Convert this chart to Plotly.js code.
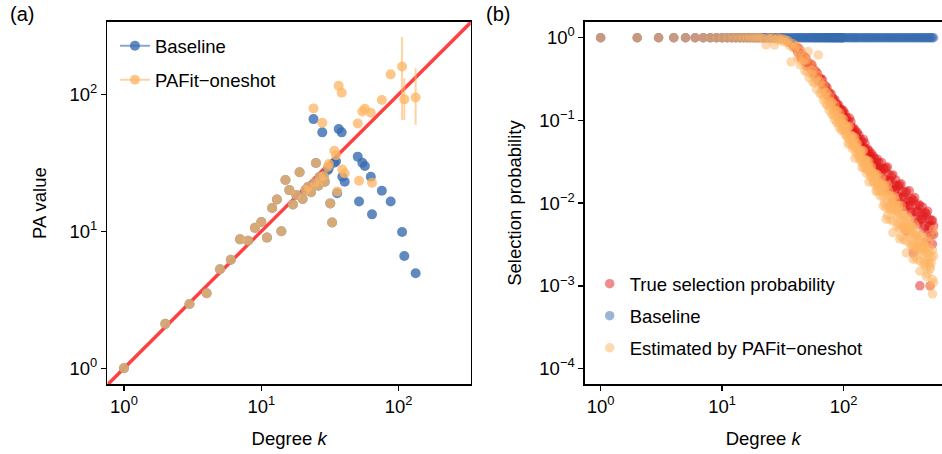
<!DOCTYPE html>
<html>
<head>
<meta charset="utf-8">
<script src="https://cdn.plot.ly/plotly-3.0.1.min.js"></script>
<style>html,body{margin:0;padding:0;background:#fff}#chart{width:942px;height:454px}</style>
</head>
<body>
<div id="chart"></div>
<script>
// ---------- Panel (a): PA value vs degree ----------
const degreeA = [1,2,3,4,5,6,7,8,9,10,11,12,13,14,15,16,17,18,19,20,21,22,23,
  24,24.6,25,26,26.7,27.8,28.5,29,30.5,31,31.8,32.8,34,35,35.7,36.6,38.5,38.9,40.5,
  50.4,51.5,54.4,56.8,62.7,64,75.5,87.5,106,110,133];
const baselinePA = [1,2.11,2.95,3.53,5.28,6.2,8.74,8.55,10.6,11.7,9.0,14.8,17.1,10.0,23.7,20.0,15.7,18.4,27.0,17.2,20.0,21.2,19.3,
  66,22.6,31.5,21.5,25,52.8,25.3,23,28,29,16,11.6,31.7,32.5,19,55.8,52.8,25,23,
  35.1,16.5,31.7,30,25,13.3,19.8,16.5,9.9,6.6,4.94];
const pafitPA = [1,2.11,2.95,3.53,5.28,6.2,8.74,8.55,10.6,11.7,9.0,14.8,17.1,10.0,23.7,20.0,15.7,18.4,27.0,17.2,20.0,21.2,19.3,
  79,22.6,31.5,21.5,25,62,25.3,23,29.5,31,16,11.6,38.8,36,19.5,115.6,102.8,28.3,26.5,
  61.4,23.4,75,78.5,73.5,22.6,91,140,160,92,95];
const pafitErrPlus  = [0,0,0,0,0,0,0,0,0,0,0,0,0,0,0,0,0,0,0,0,0,0,0,
  0,0,0,0,0,0,0,0,0,0,0,0,0,0,0,0,0,0,0,0,0,0,0,0,0,0,0,102,39,60];
const pafitErrMinus = [0,0,0,0,0,0,0,0,0,0,0,0,0,0,0,0,0,0,0,0,0,0,0,
  0,0,0,0,0,0,0,0,0,0,0,0,0,0,0,0,0,0,0,0,0,0,0,0,0,0,0,95,27,35];
const identityLine = [0.5, 1000];

// ---------- Panel (b): selection probability vs degree ----------
const degreeB = [
  1,2,3,4,5,6,7,8,9,10,
  11,12,13,14,15,16,17,18,19,20,
  21,22,23,24,25,26,27,28,29,30,
  31,32,33,34,35,36,37,38,39,40,
  41,42,43,44,45,46,47,48,49,50,
  51,52,53,54,55,56,57,58,59,60,
  61,62,63,64,65,66,67,68,69,70,
  71,72,73,74,75,76,77,78,79,80,
  81,82,83,84,85,86,87,88,89,90,
  91,92,93,94,95,96,97,98,99,
  100,103,106,109,112,115,118,121,124,127,
  130,134,138,142,146,150,154,158,162,166,
  170,175,180,185,190,195,200,206,212,218,
  224,230,236,242,248,255,262,269,276,283,
  290,298,306,314,322,330,339,348,357,366,
  375,385,395,405,415,425,436,447,458,469,
  480,492,504,516,528,540,552];
const trueProb = [
  1,1,1,1,1,1,1,1,1,1,
  1,1,1,1,1,1,1,1,1,1,
  1,1,1,1,1,1,1,1,1,1,
  0.99,0.98,0.97,0.95,0.93,0.89,0.86,0.83,0.79,0.76,
  0.77,0.67,0.74,0.58,0.64,0.57,0.60,0.51,0.57,0.45,
  0.50,0.46,0.48,0.42,0.47,0.37,0.41,0.37,0.39,0.33,
  0.37,0.30,0.33,0.30,0.32,0.28,0.31,0.24,0.27,0.24,
  0.26,0.22,0.25,0.20,0.22,0.20,0.21,0.185,0.21,0.167,
  0.187,0.17,0.18,0.158,0.178,0.142,0.16,0.146,0.155,0.136,
  0.154,0.123,0.139,0.127,0.136,0.119,0.134,0.108,0.122,
  0.131,0.098,0.108,0.083,0.107,0.084,0.071,0.081,0.060,0.070,
  0.072,0.054,0.059,0.046,0.059,0.046,0.039,0.045,0.033,0.039,
  0.040,0.030,0.035,0.026,0.034,0.027,0.023,0.031,0.0196,0.0258,
  0.0144,0.0273,0.0185,0.0142,0.0213,0.0105,0.0169,0.0191,0.0119,0.0161,
  0.009,0.0171,0.0117,0.009,0.0134,0.0046,0.0108,0.0141,0.0077,0.0113,
  0.0025,0.0117,0.0078,0.0056,0.0097,0.001,0.0076,0.009,0.0049,0.0077,
  0.0034,0.008,0.0053,0.001,0.0062,0.0032,0.0053];
const baselineProb = [
  1,1,1,1,1,1,1,1,1,1,
  1,1,1,1,1,1,1,1,1,1,
  1,1,1,1,1,1,1,1,1,1,
  1,1,1,1,1,1,1,1,1,1,
  1,1,1,1,1,1,1,1,1,1,
  1,1,1,1,1,1,1,1,1,1,
  1,1,1,1,1,1,1,1,1,1,
  1,1,1,1,1,1,1,1,1,1,
  1,1,1,1,1,1,1,1,1,1,
  1,1,1,1,1,1,1,1,1,
  1,1,1,1,1,1,1,1,1,1,
  1,1,1,1,1,1,1,1,1,1,
  1,1,1,1,1,1,1,1,1,1,
  1,1,1,1,1,1,1,1,1,1,
  1,1,1,1,1,1,1,1,1,1,
  1,1,1,1,1,1,1,1,1,1,
  1,1,1,1,1,1,1];
const estimatedProb = [
  1,1,1,1,1,1,1,1,1,1,
  1,1,1,1,1,1,1,1,1,1,
  1,0.98,0.82,1,0.97,1,0.82,0.95,1,0.93,
  0.97,0.9,0.95,0.88,0.92,0.8,0.51,0.85,0.75,0.78,
  0.80,0.565,0.63,0.47,0.69,0.505,0.56,0.40,0.54,0.39,
  0.68,0.33,0.49,0.36,0.41,0.29,0.40,0.284,0.318,0.238,
  0.355,0.62,0.297,0.213,0.293,0.21,0.238,0.177,0.262,0.193,
  0.218,0.156,0.218,0.153,0.175,0.133,0.195,0.145,0.166,0.118,
  0.166,0.119,0.134,0.102,0.154,0.113,0.13,0.094,0.131,0.094,
  0.108,0.082,0.124,0.092,0.105,0.076,0.107,0.078,0.089,
  0.103,0.068,0.078,0.052,0.085,0.058,0.0455,0.061,0.035,0.048,
  0.053,0.035,0.040,0.027,0.043,0.030,0.023,0.0316,0.018,0.0244,
  0.0273,0.018,0.0212,0.014,0.0222,0.0157,0.0122,0.0198,0.0093,0.0143,
  0.0064,0.0164,0.0093,0.0063,0.0122,0.0044,0.0087,0.0109,0.0052,0.008,
  0.0037,0.0093,0.0053,0.0036,0.0068,0.0025,0.0049,0.0064,0.003,0.0046,
  0.0021,0.0055,0.0031,0.0021,0.004,0.0015,0.0029,0.0039,0.0018,0.0029,
  0.0013,0.0034,0.0019,0.001,0.0039,0.0008,0.0023];

// further samples of nodes at the high-degree end (k >= 100)
const degreeBHigh = [
  100,103,106,109,112,115,118,121,124,127,
  130,134,138,142,146,150,154,158,162,166,
  170,175,180,185,190,195,200,206,212,218,
  224,230,236,242,248,255,262,269,276,283,
  290,298,306,314,322,330,339,348,357,366,
  375,385,395,405,415,425,436,447,458,469,
  480,492,504,516,528,540,552];
const trueProbHigh = [
  0.111,0.120,0.090,0.099,0.085,0.097,0.079,0.068,0.077,0.064,
  0.061,0.066,0.050,0.055,0.047,0.053,0.043,0.038,0.043,0.036,
  0.034,0.037,0.029,0.0315,0.0266,0.031,0.0255,0.024,0.0265,0.0194,
  0.0267,0.0156,0.0222,0.0186,0.0145,0.0219,0.0146,0.0147,0.0161,0.0121,
  0.0166,0.0098,0.014,0.0118,0.0091,0.0139,0.0093,0.0094,0.0104,0.0078,
  0.0109,0.0065,0.0094,0.0079,0.0061,0.0093,0.0063,0.0064,0.007,0.0053,
  0.0074,0.0044,0.0064,0.0053,0.0041,0.0062,0.0042];
const estimatedProbHigh = [
  0.081,0.088,0.065,0.084,0.053,0.064,0.065,0.048,0.062,0.040,
  0.042,0.045,0.033,0.043,0.027,0.033,0.033,0.025,0.032,0.021,
  0.0217,0.0232,0.0178,0.0223,0.014,0.0173,0.0176,0.0142,0.0166,0.010,
  0.0129,0.0071,0.014,0.0087,0.0113,0.0061,0.012,0.0078,0.0093,0.0056,
  0.0074,0.004,0.008,0.005,0.0062,0.0035,0.0068,0.0044,0.0053,0.0032,
  0.0042,0.0023,0.0046,0.0029,0.0037,0.002,0.0041,0.0026,0.0031,0.0019,
  0.0025,0.0014,0.0028,0.0017,0.0022,0.0012,0.0048];
const estimatedProbHigh2 = [
  0.090,0.074,0.083,0.061,0.065,0.066,0.051,0.054,0.048,0.052,
  0.046,0.038,0.043,0.031,0.033,0.034,0.026,0.028,0.0247,0.0268,
  0.024,0.0196,0.0226,0.0162,0.0171,0.0178,0.0138,0.0156,0.012,0.0163,
  0.0088,0.0109,0.0125,0.0082,0.0099,0.0083,0.0095,0.0086,0.0067,0.0091,
  0.005,0.0062,0.0071,0.0048,0.0055,0.0048,0.0054,0.0048,0.0038,0.0052,
  0.0029,0.0036,0.0041,0.0027,0.0033,0.0028,0.0032,0.0029,0.0023,0.0031,
  0.0017,0.0021,0.0025,0.0016,0.0019,0.0027,0.0011];

// ---------- tick labels ----------
const tickValsA = [1, 10, 100];
const tickTextA = ['10<sup>0</sup>', '10<sup>1</sup>', '10<sup>2</sup>'];
const tickValsBy = [1, 0.1, 0.01, 0.001, 0.0001];
const tickTextBy = ['10<sup>0</sup>', '10<sup>\u22121</sup>', '10<sup>\u22122</sup>', '10<sup>\u22123</sup>', '10<sup>\u22124</sup>'];

const BLUE = '#386cb0', ORANGE = '#fdb462', RED = '#e41a1c';
const FONT = 'Liberation Sans, Arial, Helvetica, sans-serif';
const FS = 18.5;
const mkB = (c) => ({color: c, opacity:0.5, size:9.5, line:{width:0}});

const traces = [
  {type:'scatter', mode:'lines', x: identityLine, y: identityLine, xaxis:'x', yaxis:'y',
   line:{color:'rgba(255,30,30,0.85)', width:3.5}, showlegend:false, hoverinfo:'skip'},
  {type:'scatter', mode:'markers', x: degreeA, y: baselinePA, xaxis:'x', yaxis:'y', showlegend:false,
   marker:{color: BLUE, opacity:0.8, size:10, line:{width:0}}},
  {type:'scatter', mode:'markers', x: degreeA, y: pafitPA, xaxis:'x', yaxis:'y', showlegend:false,
   marker:{color: ORANGE, opacity:0.75, size:10, line:{width:0}},
   error_y:{type:'data', symmetric:false, array: pafitErrPlus, arrayminus: pafitErrMinus,
            color:'rgba(253,180,98,0.6)', thickness:2, width:0}},
  // legend entries of panel (a)
  {type:'scatter', mode:'lines+markers', x:[null], y:[null], xaxis:'x', yaxis:'y', name:'Baseline', legend:'legend', legendgroup:'a1',
   marker:{color: BLUE, opacity:0.8, size:10}, line:{color:'rgba(56,108,176,0.6)', width:2}},
  {type:'scatter', mode:'lines+markers', x:[null], y:[null], xaxis:'x', yaxis:'y', name:'PAFit\u2212oneshot', legend:'legend', legendgroup:'a2',
   marker:{color: ORANGE, opacity:0.75, size:10}, line:{color:'rgba(253,180,98,0.6)', width:2}},
  // panel (b)
  {type:'scatter', mode:'markers', x: degreeB, y: trueProb, xaxis:'x2', yaxis:'y2', name:'True selection probability',
   legend:'legend2', legendgroup:'b1', marker: mkB(RED)},
  {type:'scatter', mode:'markers', x: degreeBHigh, y: trueProbHigh, xaxis:'x2', yaxis:'y2', showlegend:false,
   legend:'legend2', legendgroup:'b1', marker: mkB(RED)},
  {type:'scatter', mode:'markers', x: degreeB, y: baselineProb, xaxis:'x2', yaxis:'y2', name:'Baseline',
   legend:'legend2', legendgroup:'b2', marker: mkB(BLUE)},
  {type:'scatter', mode:'markers', x: degreeB, y: estimatedProb, xaxis:'x2', yaxis:'y2', name:'Estimated by PAFit\u2212oneshot',
   legend:'legend2', legendgroup:'b3', marker: mkB(ORANGE)},
  {type:'scatter', mode:'markers', x: degreeBHigh, y: estimatedProbHigh, xaxis:'x2', yaxis:'y2', showlegend:false,
   legend:'legend2', legendgroup:'b3', marker: mkB(ORANGE)},
  {type:'scatter', mode:'markers', x: degreeBHigh, y: estimatedProbHigh2, xaxis:'x2', yaxis:'y2', showlegend:false,
   legend:'legend2', legendgroup:'b3', marker: mkB(ORANGE)}
];

const axisCommon = {
  type:'log', showgrid:false, zeroline:false, showline:true, linecolor:'#000', linewidth:1.6, mirror:true,
  ticks:'outside', ticklen:5, tickwidth:1.4, tickcolor:'#000',
  tickfont:{family: FONT, size:FS, color:'#000'}, tickmode:'array'
};

const layout = {
  width:942, height:454, margin:{l:0, r:0, t:0, b:0},
  paper_bgcolor:'#fff', plot_bgcolor:'#fff',
  font:{family: FONT, size:FS, color:'#000'},
  xaxis: Object.assign({}, axisCommon, {domain:[0.1141, 0.4997], range:[-0.12, 2.525], anchor:'y',
    tickvals: tickValsA, ticktext: tickTextA,
    title:{text:'Degree <i>k</i>', font:{family: FONT, size:FS}, standoff:16}}),
  yaxis: Object.assign({}, axisCommon, {domain:[0.1535, 0.952], range:[-0.117, 2.53], anchor:'x',
    tickvals: tickValsA, ticktext: tickTextA,
    title:{text:'PA value', font:{family: FONT, size:FS}, standoff:18}}),
  xaxis2: Object.assign({}, axisCommon, {domain:[0.621, 0.9995], range:[-0.129, 2.807], anchor:'y2',
    tickvals: tickValsA, ticktext: tickTextA,
    title:{text:'Degree <i>k</i>', font:{family: FONT, size:FS}, standoff:16}}),
  yaxis2: Object.assign({}, axisCommon, {domain:[0.1535, 0.952], range:[-4.191, 0.193], anchor:'x2',
    tickvals: tickValsBy, ticktext: tickTextBy,
    title:{text:'Selection probability', font:{family: FONT, size:FS}, standoff:13}}),
  legend:{x:0.122, y:0.94, xanchor:'left', yanchor:'top', bgcolor:'rgba(0,0,0,0)', borderwidth:0,
    font:{family: FONT, size:FS, color:'#000'}, traceorder:'grouped', tracegroupgap:7},
  legend2:{x:0.626, y:0.416, xanchor:'left', yanchor:'top', bgcolor:'rgba(0,0,0,0)', borderwidth:0,
    font:{family: FONT, size:FS, color:'#000'}, traceorder:'grouped', tracegroupgap:5},
  annotations:[
    {text:'(a)', xref:'paper', yref:'paper', x:0.008, y:0.997, xanchor:'left', yanchor:'top', showarrow:false,
     font:{family: FONT, size:20, color:'#000'}},
    {text:'(b)', xref:'paper', yref:'paper', x:0.514, y:0.997, xanchor:'left', yanchor:'top', showarrow:false,
     font:{family: FONT, size:20, color:'#000'}}
  ],
  showlegend:true
};

Plotly.newPlot('chart', traces, layout, {displayModeBar:false, staticPlot:true});
</script>
</body>
</html>
